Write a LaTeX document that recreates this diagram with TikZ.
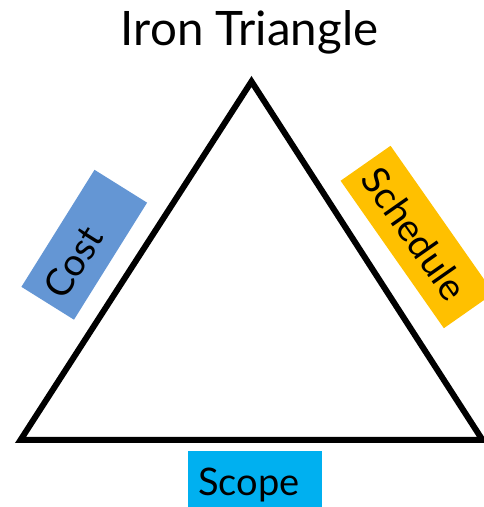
\documentclass[tikz,border=0pt]{standalone}
\usepackage{fontspec}
\setmainfont{Lato}
\definecolor{costblue}{HTML}{6496D4}
\definecolor{schedgold}{HTML}{FFC000}
\definecolor{scopecyan}{HTML}{00B0F0}
\begin{document}
\begin{tikzpicture}[x=1pt,y=1pt,
  label box/.style={rectangle, inner xsep=10pt, inner ysep=0pt, align=left, font=\fontsize{38}{38}\selectfont},
  edge line/.style={line width=6pt, line join=miter, black}]
\useasboundingbox (0,0) rectangle (484,507);
\clip (0,0) rectangle (484,507);
% title
\node[font=\fontsize{47.5}{47.5}\selectfont, anchor=base] (title) at (249.5,461) {Iron Triangle};
% triangle corners
\coordinate (A) at (251.5,425.5);
\coordinate (B) at (20.5,67);
\coordinate (C) at (482.5,67);
\draw[edge line] (A) -- (B) -- (C) -- cycle;
% labels
\node[label box, fill=costblue, text width=118pt, minimum height=62pt, rotate=58] (cost) at (84.25,262.25) {Cost};
\node[label box, fill=schedgold, text width=160pt, minimum height=61pt, rotate=-55] (schedule) at (417.2,270) {Schedule};
\node[fill=scopecyan, minimum width=134.4pt, minimum height=56pt, inner sep=0pt, anchor=south west] (scopebox) at (187.3,0) {};
\node[label box, inner xsep=0pt, anchor=base west] (scope) at (198,12) {Scope};
\end{tikzpicture}
\end{document}
